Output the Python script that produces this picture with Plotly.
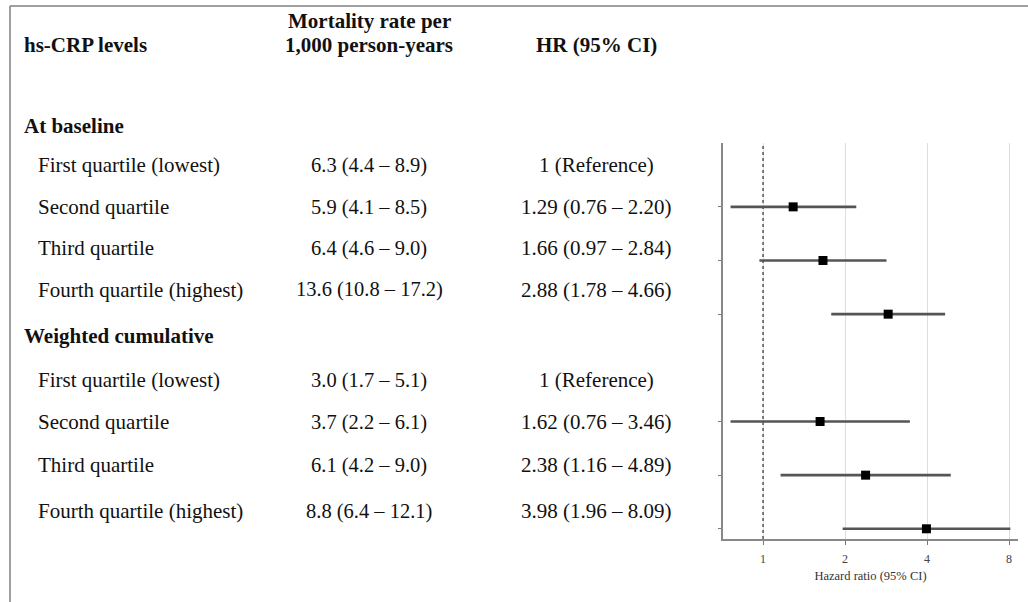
import plotly.graph_objects as go
import math

# ---------------- data ----------------
groups = ["At baseline", "Weighted cumulative"]
quartiles = ["First quartile (lowest)", "Second quartile", "Third quartile", "Fourth quartile (highest)"]
mortality_baseline = ["6.3 (4.4 \u2013 8.9)", "5.9 (4.1 \u2013 8.5)", "6.4 (4.6 \u2013 9.0)", "13.6 (10.8 \u2013 17.2)"]
mortality_weighted = ["3.0 (1.7 \u2013 5.1)", "3.7 (2.2 \u2013 6.1)", "6.1 (4.2 \u2013 9.0)", "8.8 (6.4 \u2013 12.1)"]
hr_baseline = [1.0, 1.29, 1.66, 2.88]
lo_baseline = [None, 0.76, 0.97, 1.78]
hi_baseline = [None, 2.20, 2.84, 4.66]
hr_weighted = [1.0, 1.62, 2.38, 3.98]
lo_weighted = [None, 0.76, 1.16, 1.96]
hi_weighted = [None, 3.46, 4.89, 8.09]
x_ticks = [1, 2, 4, 8]
header_levels = "hs-CRP levels"
header_mort = ["Mortality rate per", "1,000 person-years"]
header_hr = "HR (95% CI)"
x_title = "Hazard ratio (95% CI)"

# ---------------- layout helpers ----------------
W, H = 1028, 602
FONT = "Liberation Serif, Times New Roman, serif"


def px(x):
    return x / W


def py(y):
    return 1 - y / H


def hr_text(hr, lo, hi):
    if lo is None:
        return "1 (Reference)"
    return f"{hr:.2f} ({lo:.2f} \u2013 {hi:.2f})"


fig = go.Figure()

# forest rows (reference rows are not drawn); a gap row separates the groups
forest_y = []
forest_hr, forest_lo, forest_hi = [], [], []
row = 0
for gi, (hrs, los, his) in enumerate([(hr_baseline, lo_baseline, hi_baseline),
                                       (hr_weighted, lo_weighted, hi_weighted)]):
    if gi > 0:
        row += 1
    for h, l, u in zip(hrs, los, his):
        if l is None:
            continue
        row += 1
        forest_y.append(row)
        forest_hr.append(h)
        forest_lo.append(l)
        forest_hi.append(u)

# CI lines
for y, l, u in zip(forest_y, forest_lo, forest_hi):
    fig.add_trace(go.Scatter(x=[l, u], y=[y, y], mode="lines",
                             line=dict(color="#555555", width=2.6),
                             hoverinfo="skip", showlegend=False))
# point estimates
fig.add_trace(go.Scatter(x=forest_hr, y=forest_y, mode="markers",
                         marker=dict(symbol="square", size=9, color="black"),
                         showlegend=False))

fig.update_xaxes(type="log", range=[math.log10(0.713), math.log10(8.63)],
                 domain=[px(723), px(1018)],
                 tickvals=x_ticks, ticktext=[str(t) for t in x_ticks],
                 ticks="outside", ticklen=4, tickcolor="#777777",
                 ticklabelstandoff=4,
                 showline=True, linecolor="#888888", linewidth=1.5,
                 showgrid=True, gridcolor="#dedede", gridwidth=1,
                 zeroline=False,
                 tickfont=dict(family=FONT, size=12, color="#444444"),
                 title=dict(text=x_title, font=dict(family=FONT, size=12.5, color="#333333"),
                            standoff=6))
fig.update_yaxes(range=[7.19, -0.19], domain=[py(539), py(143)],
                 tickvals=forest_y, ticktext=["" for _ in forest_y],
                 ticks="outside", ticklen=3, tickcolor="#777777",
                 showline=True, linecolor="#888888", linewidth=1.5,
                 showgrid=False, zeroline=False)

# dashed reference line at HR = 1
fig.add_shape(type="line", xref="x", yref="y domain", x0=1, x1=1, y0=0, y1=1,
              line=dict(color="#555555", width=1.5, dash="3px,3px"))

# frame
fig.add_shape(type="line", xref="paper", yref="paper", x0=px(10), x1=1, y0=py(6), y1=py(6),
              line=dict(color="#808080", width=1.5))
fig.add_shape(type="line", xref="paper", yref="paper", x0=px(10), x1=px(10), y0=0, y1=py(6),
              line=dict(color="#808080", width=1.5))

# ---------------- table text ----------------
COL_LABEL_HEAD = 22
COL_LABEL = 36
COL_MORT = 369
COL_HR = 596
SIZE = 21


def ann(text, x, y, anchor="left", bold=False, size=SIZE):
    t = f"<b>{text}</b>" if bold else text
    fig.add_annotation(text=t, x=px(x), y=py(y), xref="paper", yref="paper",
                       xanchor=anchor, yanchor="middle", showarrow=False,
                       font=dict(family=FONT, size=size, color="#111111"), align="center")


ann(header_levels, COL_LABEL_HEAD, 45, bold=True)
ann(header_mort[0], COL_MORT, 21, anchor="center", bold=True)
ann(header_mort[1], COL_MORT, 45, anchor="center", bold=True)
ann(header_hr, COL_HR, 45, anchor="center", bold=True)

group_y = [126, 336]
row_y = [[165, 207, 248, 290], [380, 422, 465, 511]]
data_sets = [(mortality_baseline, hr_baseline, lo_baseline, hi_baseline),
             (mortality_weighted, hr_weighted, lo_weighted, hi_weighted)]
for g, gy, ry, (mort, hrs, los, his) in zip(groups, group_y, row_y, data_sets):
    ann(g, COL_LABEL_HEAD, gy, bold=True)
    for q, y, m, h, l, u in zip(quartiles, ry, mort, hrs, los, his):
        ann(q, COL_LABEL, y)
        ann(m, COL_MORT, y, anchor="center", size=20.5)
        ann(hr_text(h, l, u), COL_HR, y, anchor="center")

fig.update_layout(width=W, height=H, margin=dict(l=0, r=0, t=0, b=0),
                  paper_bgcolor="white", plot_bgcolor="white",
                  font=dict(family=FONT), showlegend=False)

fig.write_html("out.html", config={"displayModeBar": False},
               post_script="document.body.style.margin='0';")
